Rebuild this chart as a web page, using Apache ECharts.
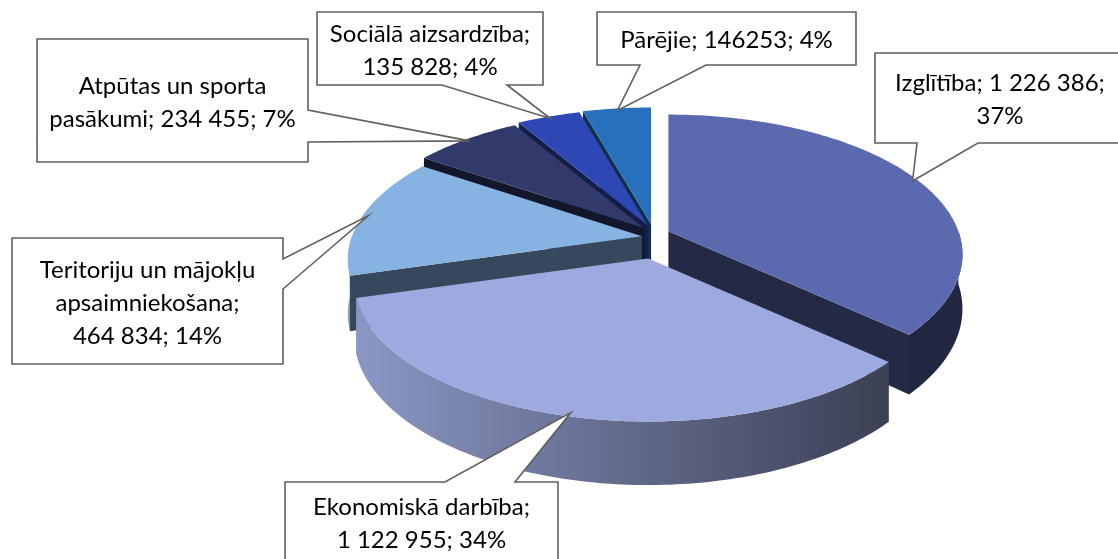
<!DOCTYPE html>
<html>
<head>
<meta charset="utf-8">
<script src="https://cdn.jsdelivr.net/npm/echarts@6/dist/echarts.min.js"></script>
<style>
  html, body { margin: 0; padding: 0; background: #fff; }
  #chart { width: 1118px; height: 559px; }
</style>
</head>
<body>
<div id="chart"></div>
<script>
// budget items, clockwise from 12 o'clock
const categories = ['Izglītība', 'Ekonomiskā darbība', 'Teritoriju un mājokļu apsaimniekošana',
  'Atpūtas un sporta pasākumi', 'Sociālā aizsardzība', 'Pārējie'];
const values = [1226386, 1122955, 464834, 234455, 135828, 146253];
const colors = ['#5b6aae', '#9daadf', '#87b3e3', '#323a6b', '#2d48b4', '#2770bc'];

// callout boxes [x, y, w, h], side of the pointer, pointer base, word index of line breaks
const callouts = [
  { box: [875, 53, 250, 90], side: 'bottom', base: [917, 978], breaks: [4] },
  { box: [285, 482, 273, 80], side: 'top', base: [445, 515], breaks: [2] },
  { box: [12, 238, 271, 126], side: 'right', base: [259, 289], breaks: [3, 4] },
  { box: [37, 39, 271, 123], side: 'right', base: [110, 142], breaks: [3] },
  { box: [317, 12, 226, 73], side: 'bottom', base: [442, 507], breaks: [2] },
  { box: [597, 12, 259, 53], side: 'bottom', base: [640, 706], breaks: [], plain: true }
];

// 3d look
const CX = 653, CY = 238, RX = 290, RY = 136, DEPTH = 53, PERSP = 0.166, EXPL = 14;
const explodeScale = [1.2, 1.5, 0.8, 1, 1, 1];
const FONT = 'Lato, "Open Sans", sans-serif';

const total = values.reduce((a, b) => a + b, 0);
const starts = [], ends = [];
let acc = 0;
values.forEach(v => {
  starts.push(acc / total * 360);
  acc += v;
  ends.push(acc / total * 360);
});
// back-to-front drawing order
const depthOf = i => -Math.cos((starts[i] + ends[i]) / 2 * Math.PI / 180);
const sorted = values.map((v, i) => i).sort((a, b) => depthOf(a) - depthOf(b));
const rank = [];
sorted.forEach((idx, r) => { rank[idx] = r; });

function proj(r, a, h, off) {
  const t = a * Math.PI / 180;
  const u = r * Math.sin(t), v = -r * Math.cos(t);
  const w = 1 - PERSP * v;
  return [CX + off[0] + RX * u / w, CY + off[1] + (RY * v + DEPTH * h) / w];
}

function arc(a0, a1, h, off) {
  const pts = [];
  const n = Math.max(2, Math.ceil(Math.abs(a1 - a0)));
  for (let k = 0; k <= n; k++) pts.push(proj(1, a0 + (a1 - a0) * k / n, h, off));
  return pts;
}

function shade(hex, f) {
  const n = parseInt(hex.slice(1), 16);
  const c = [(n >> 16) & 255, (n >> 8) & 255, n & 255].map(x => Math.round(x * f));
  return 'rgb(' + c.join(',') + ')';
}

function fmt(v, plain) {
  return plain ? String(v) : String(v).replace(/\B(?=(\d{3})+(?!\d))/g, ' ');
}

function labelText(i) {
  const c = callouts[i];
  const pct = Math.round(values[i] / total * 100);
  const words = (categories[i] + '; ' + fmt(values[i], c.plain) + '; ' + pct + '%').split(' ');
  let out = '';
  words.forEach((w, k) => {
    if (k > 0) out += c.breaks.indexOf(k) >= 0 ? '\n' : ' ';
    out += w;
  });
  return out;
}

function calloutShape(c, tip) {
  const [x, y, w, h] = c.box;
  const b = c.base;
  if (c.side === 'bottom') {
    return [[x, y], [x + w, y], [x + w, y + h], [b[1], y + h], tip, [b[0], y + h], [x, y + h]];
  }
  if (c.side === 'top') {
    return [[x, y], [b[0], y], tip, [b[1], y], [x + w, y], [x + w, y + h], [x, y + h]];
  }
  return [[x, y], [x + w, y], [x + w, b[0]], tip, [x + w, b[1]], [x + w, y + h], [x, y + h]];
}

function renderItem(params, api) {
  const i = params.dataIndex;
  const a0 = starts[i], a1 = ends[i], am = (a0 + a1) / 2;
  const t = am * Math.PI / 180;
  const k = EXPL * explodeScale[i];
  const off = [k * Math.sin(t), -k * Math.cos(t)];
  const col = api.visual('color');
  const z = rank[i] * 10;
  const children = [];

  // outer wall, front half only
  const w0 = Math.max(a0, 90), w1 = Math.min(a1, 270);
  if (w1 > w0) {
    const pts = arc(w0, w1, 0, off).concat(arc(w1, w0, 1, off));
    children.push({
      type: 'polygon', z2: z + 1, shape: { points: pts },
      style: {
        fill: new echarts.graphic.LinearGradient(360, 0, 880, 0, [
          { offset: 0, color: shade(col, 0.88) },
          { offset: 1, color: shade(col, 0.38) }
        ], true)
      }
    });
  }
  // cut faces that look toward the viewer
  const faces = [];
  if (Math.sin(a0 * Math.PI / 180) < -0.01) faces.push(a0);
  if (Math.sin(a1 * Math.PI / 180) > 0.01) faces.push(a1);
  faces.forEach(a => {
    children.push({
      type: 'polygon', z2: z + 1,
      shape: { points: [proj(0, a, 0, off), proj(1, a, 0, off), proj(1, a, 1, off), proj(0, a, 1, off)] },
      style: { fill: shade(col, 0.4) }
    });
  });
  // top face
  children.push({
    type: 'polygon', z2: z + 2,
    shape: { points: [proj(0, 0, 0, off)].concat(arc(a0, a1, 0, off)) },
    style: { fill: col }
  });

  // callout
  const c = callouts[i];
  const tip = proj(0.98, am, 0, off);
  children.push({
    type: 'polygon', z2: 200,
    shape: { points: calloutShape(c, tip) },
    style: { fill: '#fff', stroke: '#5f5f5f', lineWidth: 1.6 }
  });
  children.push({
    type: 'text', z2: 201,
    x: c.box[0] + c.box[2] / 2, y: c.box[1] + c.box[3] / 2 + 2,
    style: {
      text: labelText(i), fill: '#000', fontSize: 24, fontFamily: FONT,
      align: 'center', verticalAlign: 'middle', lineHeight: 33
    }
  });

  return { type: 'group', children: children };
}

const chart = echarts.init(document.getElementById('chart'));
chart.setOption({
  animation: false,
  series: [{
    type: 'custom',
    coordinateSystem: 'none',
    renderItem: renderItem,
    data: values.map((v, i) => ({ value: v, name: categories[i], itemStyle: { color: colors[i] } }))
  }]
});
</script>
</body>
</html>
